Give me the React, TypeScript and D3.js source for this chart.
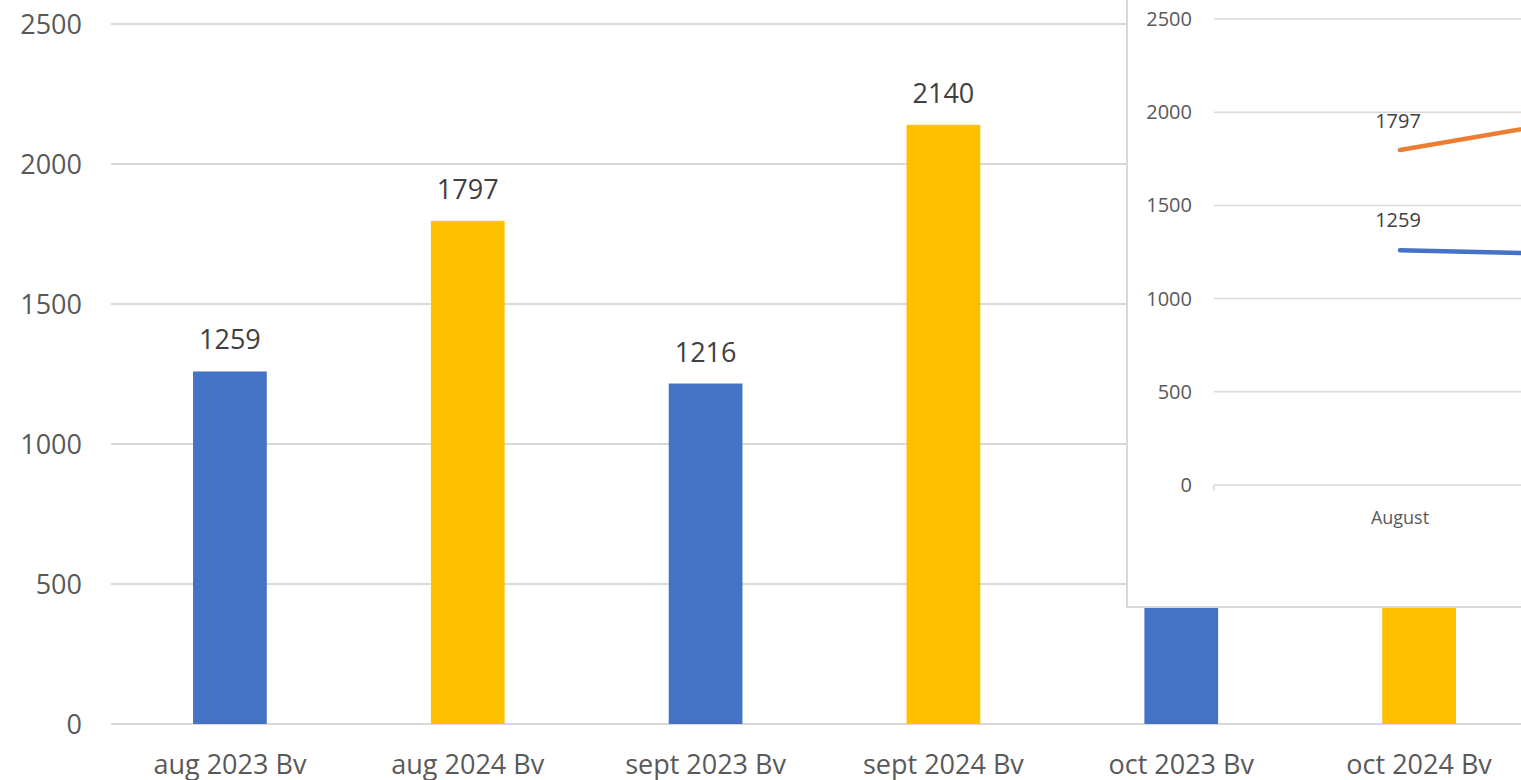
import React from 'react';
import * as d3 from 'd3';

// main bar chart data
const barCategories = ['aug 2023 Bv', 'aug 2024 Bv', 'sept 2023 Bv', 'sept 2024 Bv', 'oct 2023 Bv', 'oct 2024 Bv'];
const barValues = [1259, 1797, 1216, 2140, 1190, 2050];
const barColors = ['#4472C4', '#FFC000', '#4472C4', '#FFC000', '#4472C4', '#FFC000'];
const yTicks = [0, 500, 1000, 1500, 2000, 2500];

// overlay line chart data
const months = ['August', 'September', 'October'];
const series2023 = [1259, 1216, 1190];
const series2024 = [1797, 2140, 2050];
const lineColors = { s2023: '#4472C4', s2024: '#ED7D31' };

const FONT = '"Open Sans", sans-serif';
const GRID = '#d9d9d9';
const TEXT = '#595959';

const W = 1521;
const H = 780;

function BarChart() {
  let left = 111, right = 1538, top = 24, bottom = 724;

  let x = d3.scaleBand<string>().domain(barCategories).range([left, right]).paddingInner(0.69).paddingOuter(0.345);
  let y = d3.scaleLinear().domain([0, 2500]).range([bottom, top]);

  return (
    <g>
      {yTicks.map((t) => (
        <g key={t}>
          <line x1={left} x2={W} y1={y(t)} y2={y(t)} stroke={GRID} strokeWidth={2} />
          <text x={82} y={y(t) + 10} textAnchor="end" fontSize={27} fill={TEXT} fontFamily={FONT}>{t}</text>
        </g>
      ))}
      {barCategories.map((c, i) => (
        <g key={c}>
          <rect x={x(c)} y={y(barValues[i])} width={x.bandwidth()} height={bottom - y(barValues[i])} fill={barColors[i]} />
          <text x={x(c)! + x.bandwidth() / 2} y={y(barValues[i]) - 22} textAnchor="middle" fontSize={27} fill="#404040" fontFamily={FONT}>{barValues[i]}</text>
          <text x={x(c)! + x.bandwidth() / 2} y={774} textAnchor="middle" fontSize={27} fill={TEXT} fontFamily={FONT}>{c}</text>
        </g>
      ))}
    </g>
  );
}

function LineOverlay() {
  let panelLeft = 1127, panelBottom = 607;
  let left = 1214, right = 2330, top = 19, bottom = 485;

  let x = d3.scalePoint<string>().domain(months).range([left, right]).padding(0.5);
  let y = d3.scaleLinear().domain([0, 2500]).range([bottom, top]);

  let line = d3.line<number>().x((d, i) => x(months[i])!).y((d) => y(d));

  let series = [
    { name: '2024', values: series2024, color: lineColors.s2024, dy: -22 },
    { name: '2023', values: series2023, color: lineColors.s2023, dy: -23 },
  ];

  return (
    <g>
      <rect x={panelLeft} y={-10} width={W + 10 - panelLeft} height={panelBottom + 10} fill="#fff" stroke={GRID} strokeWidth={2} />
      {yTicks.map((t) => (
        <g key={t}>
          <line x1={left} x2={W + 5} y1={y(t)} y2={y(t)} stroke={GRID} strokeWidth={1.5} />
          <text x={1192} y={y(t) + 7} textAnchor="end" fontSize={20} fill={TEXT} fontFamily={FONT}>{t}</text>
        </g>
      ))}
      <line x1={left} x2={left} y1={bottom} y2={bottom + 6} stroke={GRID} strokeWidth={1.5} />
      {months.map((m) => (
        <text key={m} x={x(m)} y={524} textAnchor="middle" fontSize={18} fill={TEXT} fontFamily={FONT}>{m}</text>
      ))}
      {series.map((s) => (
        <g key={s.name}>
          <path d={line(s.values)!} fill="none" stroke={s.color} strokeWidth={4.5} strokeLinecap="round" />
          {s.values.map((v, i) => (
            <text key={i} x={x(months[i])! - 2} y={y(v) + s.dy} textAnchor="middle" fontSize={20} fill="#404040" fontFamily={FONT}>{v}</text>
          ))}
        </g>
      ))}
    </g>
  );
}

export default function App() {
  return (
    <svg width={W} height={H} style={{ position: 'absolute', left: 0, top: 0, background: '#fff' }}>
      <BarChart />
      <LineOverlay />
    </svg>
  );
}
